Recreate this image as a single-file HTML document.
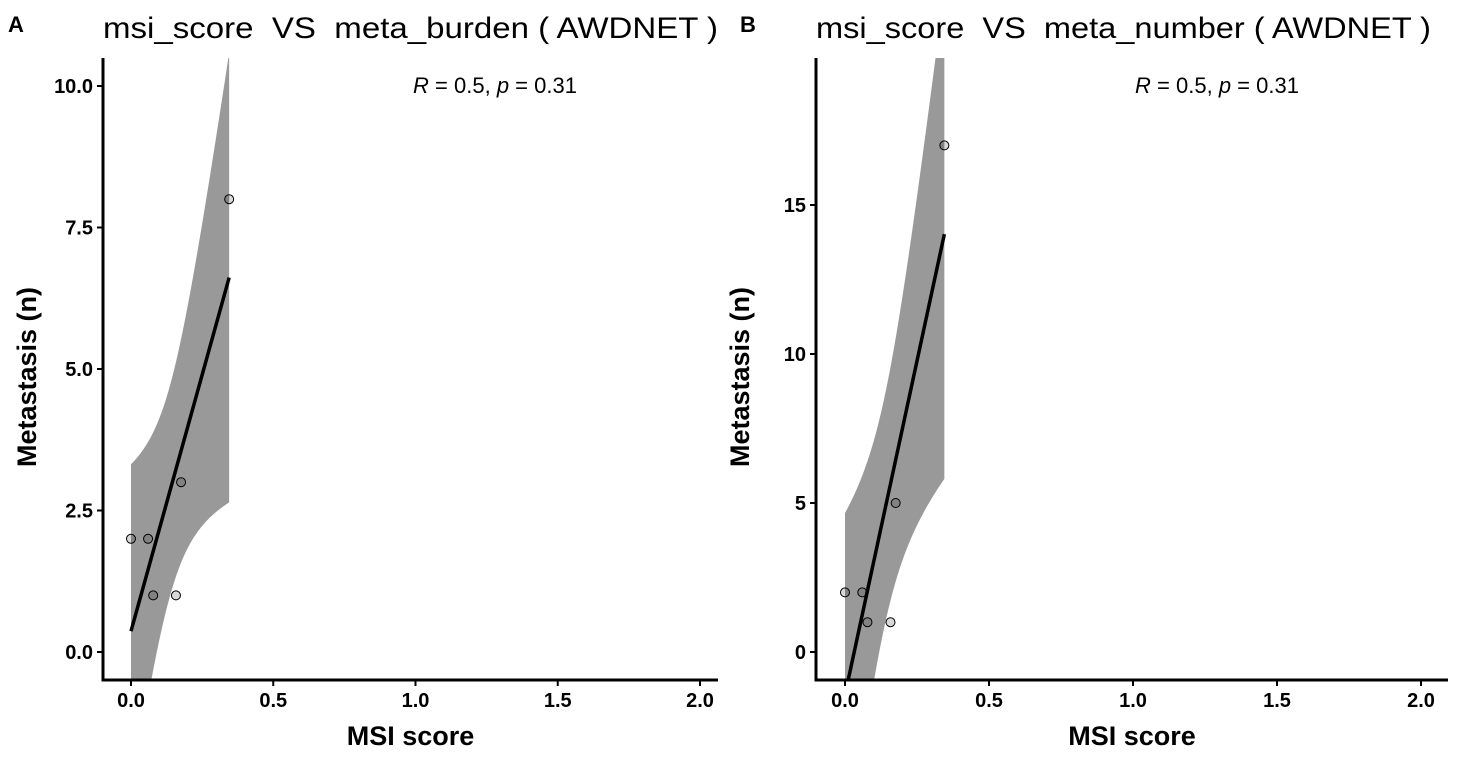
<!DOCTYPE html>
<html><head><meta charset="utf-8"><style>
html,body{margin:0;background:#fff;overflow:hidden;width:1464px;height:763px;}
svg{display:block;font-family:"Liberation Sans",Arial,sans-serif;}
</style></head><body>
<svg id="chart" width="1464" height="763"></svg>
<script>
const msiScores = [0, 0.06, 0.078, 0.158, 0.176, 0.345];
const metaBurden = [2, 2, 1, 1, 3, 8];
const metaNumber = [2, 2, 1, 1, 5, 17];
const xTicks = [0, 0.5, 1, 1.5, 2];
const xTickLabels = ["0.0","0.5","1.0","1.5","2.0"];
const yTicksA = [0, 2.5, 5, 7.5, 10];
const yTickLabelsA = ["0.0","2.5","5.0","7.5","10.0"];
const yTicksB = [0, 5, 10, 15];
const yTickLabelsB = ["0","5","10","15"];
const statsLabel = ["0.5","0.31"];

const NS="http://www.w3.org/2000/svg";
const svg=document.getElementById('chart');
function mk(tag,attrs,parent){const e=document.createElementNS(NS,tag);for(const k in attrs)e.setAttribute(k,attrs[k]);(parent||svg).appendChild(e);return e;}

function panel(cfg){
  const g=mk('g',{});
  
  
  const sx=v=>cfg.x0+(v)*(cfg.x2-cfg.x0)/2;
  const sy=v=>cfg.y0-(v-0)*cfg.ppu;
  const clipId=cfg.name+'-clip';
  const cp=mk('clipPath',{id:clipId},g);
  mk('rect',{x:cfg.axL,y:58,width:cfg.axR-cfg.axL,height:cfg.axB-58},cp);
  const ys=cfg.ys, xs=msiScores, n=xs.length;
  const mx=xs.reduce((a,b)=>a+b)/n, my=ys.reduce((a,b)=>a+b)/n;
  let sxx=0,sxy=0;for(let i=0;i<n;i++){sxx+=(xs[i]-mx)**2;sxy+=(xs[i]-mx)*(ys[i]-my);}
  const b=sxy/sxx,a=my-b*mx;
  let sse=0;for(let i=0;i<n;i++)sse+=(ys[i]-a-b*xs[i])**2;
  const s=Math.sqrt(sse/(n-2)), t=2.776;
  const xmin=Math.min(...xs),xmax=Math.max(...xs);
  const up=[],lo=[];
  for(let k=0;k<=60;k++){const x=xmin+(xmax-xmin)*k/60;const f=a+b*x;const se=s*Math.sqrt(1/n+(x-mx)**2/sxx);
    up.push(sx(x)+','+sy(f+t*se));lo.push(sx(x)+','+sy(f-t*se));}
  const cg=mk('g',{'clip-path':'url(#'+clipId+')'},g);
  xs.forEach((x,i)=>{const c=mk('circle',{cx:sx(x),cy:sy(ys[i]),r:4.5,fill:'#d9d9d9',stroke:'#000','stroke-width':1},cg);
    
    });
  const band=mk('polygon',{points:up.concat(lo.reverse()).join(' '),fill:'rgba(0,0,0,0.4)'},cg);
  
  
  const ln=mk('line',{x1:sx(xmin),y1:sy(a+b*xmin),x2:sx(xmax),y2:sy(a+b*xmax),stroke:'#000','stroke-width':3.5},cg);
  
  
  mk('line',{x1:cfg.axL,y1:58,x2:cfg.axL,y2:cfg.axB+1.5,stroke:'#000','stroke-width':3},g);
  mk('line',{x1:cfg.axL,y1:cfg.axB,x2:cfg.axR,y2:cfg.axB,stroke:'#000','stroke-width':3},g);
  xTicks.forEach((v,i)=>{mk('line',{x1:sx(v),y1:cfg.axB,x2:sx(v),y2:cfg.axB+6,stroke:'#000','stroke-width':2},g);
    const tx=mk('text',{x:sx(v),y:cfg.axB+27,'text-anchor':'middle','font-size':20,'font-weight':'bold'},g);tx.textContent=xTickLabels[i];
    });
  cfg.yt.forEach((v,i)=>{mk('line',{x1:cfg.axL-6,y1:sy(v),x2:cfg.axL,y2:sy(v),stroke:'#000','stroke-width':2},g);
    const tx=mk('text',{x:cfg.axL-10,y:sy(v)+7,'text-anchor':'end','font-size':20,'font-weight':'bold'},g);tx.textContent=cfg.ytl[i];
    });
  const xt=mk('text',{x:(cfg.axL+cfg.axR)/2,y:745,'text-anchor':'middle','font-size':27,'font-weight':'bold'},g);xt.textContent='MSI score';
  
  const yt=mk('text',{x:0,y:0,'text-anchor':'middle','font-size':27,'font-weight':'bold',transform:`translate(${cfg.axL-67},377) rotate(-90)`},g);yt.textContent='Metastasis (n)';
  
  const ti=mk('text',{x:cfg.axL,y:38,'font-size':30,textLength:615,lengthAdjust:'spacingAndGlyphs'},g);ti.textContent=cfg.title;ti.setAttribute('style','white-space:pre');
  
  const tag=mk('text',{x:cfg.tagX,y:32,'font-size':22,'font-weight':'bold'},g);tag.textContent=cfg.tag;
  
  const st=mk('text',{x:cfg.statX,y:93,'text-anchor':'middle','font-size':22},g);
  st.innerHTML='<tspan font-style="italic">R</tspan> = '+statsLabel[0]+', <tspan font-style="italic">p</tspan> = '+statsLabel[1];
  
}
panel({name:'panel-a',x0:131,x2:700,y0:652,ppu:56.6,axL:103,axR:718,axB:680,ys:metaBurden,yt:yTicksA,ytl:yTickLabelsA,
  title:'msi_score  VS  meta_burden ( AWDNET )',tag:'A',tagX:8,statX:495});
panel({name:'panel-b',x0:845,x2:1421,y0:652,ppu:29.8,axL:816,axR:1448,axB:680,ys:metaNumber,yt:yTicksB,ytl:yTickLabelsB,
  title:'msi_score  VS  meta_number ( AWDNET )',tag:'B',tagX:740,statX:1217});
</script>
</body></html>
